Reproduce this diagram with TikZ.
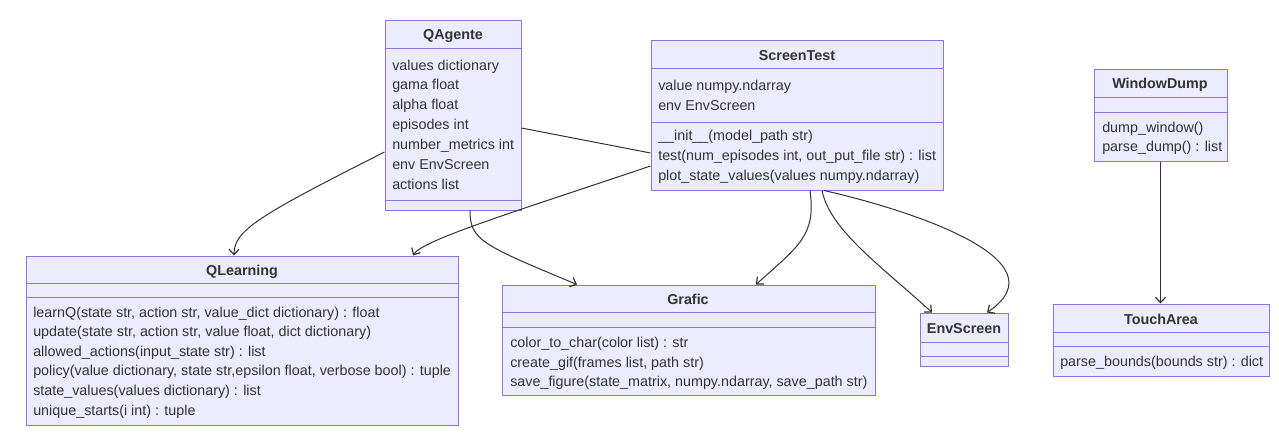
\documentclass[tikz,border=0pt]{standalone}
\usepackage{fontspec}
\setmainfont{Liberation Sans}
\usetikzlibrary{arrows.meta,fit}

\definecolor{classfill}{HTML}{ECECFF}
\definecolor{classborder}{HTML}{9370DB}
\definecolor{classtext}{HTML}{333333}

\tikzset{
  classbox/.style={draw=classborder, fill=classfill, line width=0.75pt, inner sep=0pt},
  classsep/.style={draw=classborder, line width=0.75pt},
  classname/.style={inner sep=0pt, text=classtext, font=\fontsize{10.75}{12}\selectfont\bfseries, text height=9pt, text depth=1.5pt},
  member/.style={anchor=west, inner sep=0pt, text=classtext, font=\fontsize{10.75}{12}\selectfont, text height=9pt, text depth=1.5pt},
  rel/.style={draw=classtext, line width=0.75pt, -{Straight Barb[length=4pt,width=7.5pt,line width=0.9pt]}},
  link/.style={draw=classtext, line width=0.75pt}
}

\begin{document}
\begin{tikzpicture}[x=0.75pt,y=-0.75pt]
  \useasboundingbox (0,0) rectangle (1279,447);

  % class boxes
  \node[classbox, fit={(385,20) (521,210)}] (qagente) {};
  \node[classbox, fit={(651,40) (943,190)}] (screentest) {};
  \node[classbox, fit={(1094,69) (1227,161)}] (windowdump) {};
  \node[classbox, fit={(1053,304) (1269,376)}] (toucharea) {};
  \node[classbox, fit={(920,313) (1008,366)}] (envscreen) {};
  \node[classbox, fit={(26,256) (458,425)}] (qlearning) {};
  \node[classbox, fit={(502,285) (875,395)}] (grafic) {};

  % compartments
  \draw[classsep] (qagente.west |- 0,48) -- (qagente.east |- 0,48);
  \draw[classsep] (qagente.west |- 0,200) -- (qagente.east |- 0,200);
  \draw[classsep] (screentest.west |- 0,68) -- (screentest.east |- 0,68);
  \draw[classsep] (screentest.west |- 0,122) -- (screentest.east |- 0,122);
  \draw[classsep] (windowdump.west |- 0,97) -- (windowdump.east |- 0,97);
  \draw[classsep] (windowdump.west |- 0,112) -- (windowdump.east |- 0,112);
  \draw[classsep] (toucharea.west |- 0,332) -- (toucharea.east |- 0,332);
  \draw[classsep] (toucharea.west |- 0,346) -- (toucharea.east |- 0,346);
  \draw[classsep] (envscreen.west |- 0,342) -- (envscreen.east |- 0,342);
  \draw[classsep] (envscreen.west |- 0,356) -- (envscreen.east |- 0,356);
  \draw[classsep] (qlearning.west |- 0,283) -- (qlearning.east |- 0,283);
  \draw[classsep] (qlearning.west |- 0,297) -- (qlearning.east |- 0,297);
  \draw[classsep] (grafic.west |- 0,312) -- (grafic.east |- 0,312);
  \draw[classsep] (grafic.west |- 0,327) -- (grafic.east |- 0,327);

  % names
  \node[classname] (qagente-name) at (453,34) {QAgente};
  \node[classname] (screentest-name) at (797,55) {ScreenTest};
  \node[classname] (windowdump-name) at (1160,83) {WindowDump};
  \node[classname] (toucharea-name) at (1161,319) {TouchArea};
  \node[classname] (envscreen-name) at (964,328) {EnvScreen};
  \node[classname] (qlearning-name) at (242,270) {QLearning};
  \node[classname] (grafic-name) at (688,299) {Grafic};

  % members
  \foreach \txt [count=\i] in {values dictionary, gama float, alpha float, episodes int,
      number\_metrics int, env EnvScreen, actions list}
    \node[member] (qagente-a\i) at (392,{65+(\i-1)*19.85}) {\txt};

  \node[member] (screentest-a1) at (658,85) {value numpy.ndarray};
  \node[member] (screentest-a2) at (658,105) {env EnvScreen};
  \node[member] (screentest-m1) at (658,135) {\_\_init\_\_(model\_path str)};
  \node[member] (screentest-m2) at (658,155) {test(num\_episodes int, out\_put\_file str) : list};
  \node[member] (screentest-m3) at (658,175) {plot\_state\_values(values numpy.ndarray)};

  \node[member] (windowdump-m1) at (1102,127) {dump\_window()};
  \node[member] (windowdump-m2) at (1102,146) {parse\_dump() : list};

  \node[member] (toucharea-m1) at (1060,361) {parse\_bounds(bounds str) : dict};

  \foreach \txt [count=\i] in {{learnQ(state str, action str, value\_dict dictionary) : float},
      {update(state str, action str, value float, dict dictionary)},
      {allowed\_actions(input\_state str) : list},
      {policy(value dictionary, state str,epsilon float, verbose bool) : tuple},
      {state\_values(values dictionary) : list},
      {unique\_starts(i int) : tuple}}
    \node[member] (qlearning-m\i) at (33,{312+(\i-1)*19.6}) {\txt};

  \node[member] (grafic-m1) at (510,342) {color\_to\_char(color list) : str};
  \node[member] (grafic-m2) at (510,362) {create\_gif(frames list, path str)};
  \node[member] (grafic-m3) at (510,381) {save\_figure(state\_matrix, numpy.ndarray, save\_path str)};

  % relations
  \draw[rel] (qagente.west |- 0,152) .. controls (260,215) and (234,230) .. (qlearning.north -| 234,0);
  \draw[rel] (qagente.south -| 470,0) .. controls (470,240) and (482,245) .. (grafic.north -| 577,0);
  \draw[link] (qagente.east |- 0,128) -- (screentest.west |- 0,153);
  \draw[rel] (screentest.west |- 0,166) .. controls (520,210) and (422,240) .. (qlearning.north -| 413,0);
  \draw[rel] (screentest.south -| 810,0) .. controls (816,235) and (800,245) .. (grafic.north -| 756,0);
  \draw[rel] (screentest.south -| 822,0) .. controls (830,230) and (880,265) .. (envscreen.north -| 932,0);
  \draw[rel] (screentest.south -| 824,0) .. controls (910,210) and (1065,260) .. (envscreen.north -| 987,0);
  \draw[rel] (windowdump.south) -- (toucharea.north -| windowdump.south);
\end{tikzpicture}
\end{document}
